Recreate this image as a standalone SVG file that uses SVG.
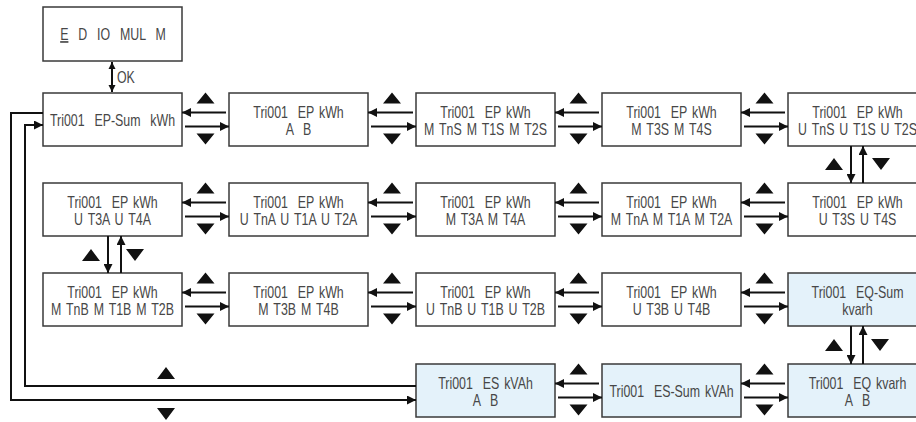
<svg xmlns="http://www.w3.org/2000/svg" width="916" height="422" viewBox="0 0 916 422">
<style>
.box{fill:#ffffff;stroke:#3a3a3a;stroke-width:1.5}
.blue{fill:#e4f2fa}
.t{font-family:"Liberation Sans",Arial,sans-serif;font-size:16.5px;fill:#474747;text-anchor:middle;white-space:pre;word-spacing:2px}
.ts{font-family:"Liberation Sans",Arial,sans-serif;font-size:16.5px;fill:#474747;white-space:pre}
.c{fill:none;stroke:#111;stroke-width:2}
.tri{fill:#111}
</style>
<defs>
<marker id="ah" viewBox="0 0 10 10" refX="10" refY="5" markerWidth="9" markerHeight="9" markerUnits="userSpaceOnUse" orient="auto"><path d="M0,0 L10,5 L0,10 z" fill="#111"/></marker>
<marker id="ahs" viewBox="0 0 10 10" refX="10" refY="5" markerWidth="7" markerHeight="8" markerUnits="userSpaceOnUse" orient="auto-start-reverse"><path d="M0,0 L10,5 L0,10 z" fill="#111"/></marker>
</defs>

<!-- nodes -->
<g id="n_menu">
<rect class="box" x="43" y="7" width="139" height="54"/>
<text class="t" transform="translate(113,40) scale(0.75,1)"><tspan text-decoration="underline">E</tspan>  D  IO  MUL  M</text>
</g>

<g id="n_r1c1"><rect class="box" x="43" y="93" width="139" height="53"/>
<text class="t" transform="translate(112.5,126) scale(0.75,1)">Tri001  EP-Sum  kWh</text></g>
<g id="n_r1c2"><rect class="box" x="229" y="93" width="139" height="53"/>
<text class="t" transform="translate(298.5,117.5) scale(0.75,1)">Tri001  EP kWh</text>
<text class="t" transform="translate(298.5,135) scale(0.75,1)">A  B</text></g>
<g id="n_r1c3"><rect class="box" x="416" y="93" width="139" height="53"/>
<text class="t" transform="translate(485.5,117.5) scale(0.75,1)">Tri001  EP kWh</text>
<text class="t" transform="translate(485.5,135) scale(0.75,1)">M TnS M T1S M T2S</text></g>
<g id="n_r1c4"><rect class="box" x="602" y="93" width="139" height="53"/>
<text class="t" transform="translate(671.5,117.5) scale(0.75,1)">Tri001  EP kWh</text>
<text class="t" transform="translate(671.5,135) scale(0.75,1)">M T3S M T4S</text></g>
<g id="n_r1c5"><rect class="box" x="788" y="93" width="139" height="53"/>
<text class="t" transform="translate(857.5,117.5) scale(0.75,1)">Tri001  EP kWh</text>
<text class="t" transform="translate(857.5,135) scale(0.75,1)">U TnS U T1S U T2S</text></g>

<g id="n_r2c1"><rect class="box" x="43" y="183" width="139" height="53"/>
<text class="t" transform="translate(112.5,207.5) scale(0.75,1)">Tri001  EP kWh</text>
<text class="t" transform="translate(112.5,225) scale(0.75,1)">U T3A U T4A</text></g>
<g id="n_r2c2"><rect class="box" x="229" y="183" width="139" height="53"/>
<text class="t" transform="translate(298.5,207.5) scale(0.75,1)">Tri001  EP kWh</text>
<text class="t" transform="translate(298.5,225) scale(0.75,1)">U TnA U T1A U T2A</text></g>
<g id="n_r2c3"><rect class="box" x="416" y="183" width="139" height="53"/>
<text class="t" transform="translate(485.5,207.5) scale(0.75,1)">Tri001  EP kWh</text>
<text class="t" transform="translate(485.5,225) scale(0.75,1)">M T3A M T4A</text></g>
<g id="n_r2c4"><rect class="box" x="602" y="183" width="139" height="53"/>
<text class="t" transform="translate(671.5,207.5) scale(0.75,1)">Tri001  EP kWh</text>
<text class="t" transform="translate(671.5,225) scale(0.75,1)">M TnA M T1A M T2A</text></g>
<g id="n_r2c5"><rect class="box" x="788" y="183" width="139" height="53"/>
<text class="t" transform="translate(857.5,207.5) scale(0.75,1)">Tri001  EP kWh</text>
<text class="t" transform="translate(857.5,225) scale(0.75,1)">U T3S U T4S</text></g>

<g id="n_r3c1"><rect class="box" x="43" y="273" width="139" height="53"/>
<text class="t" transform="translate(112.5,297.5) scale(0.75,1)">Tri001  EP kWh</text>
<text class="t" transform="translate(112.5,315) scale(0.75,1)">M TnB M T1B M T2B</text></g>
<g id="n_r3c2"><rect class="box" x="229" y="273" width="139" height="53"/>
<text class="t" transform="translate(298.5,297.5) scale(0.75,1)">Tri001  EP kWh</text>
<text class="t" transform="translate(298.5,315) scale(0.75,1)">M T3B M T4B</text></g>
<g id="n_r3c3"><rect class="box" x="416" y="273" width="139" height="53"/>
<text class="t" transform="translate(485.5,297.5) scale(0.75,1)">Tri001  EP kWh</text>
<text class="t" transform="translate(485.5,315) scale(0.75,1)">U TnB U T1B U T2B</text></g>
<g id="n_r3c4"><rect class="box" x="602" y="273" width="139" height="53"/>
<text class="t" transform="translate(671.5,297.5) scale(0.75,1)">Tri001  EP kWh</text>
<text class="t" transform="translate(671.5,315) scale(0.75,1)">U T3B U T4B</text></g>
<g id="n_r3c5"><rect class="box blue" x="788" y="273" width="139" height="53"/>
<text class="t" transform="translate(857.5,297.5) scale(0.75,1)">Tri001  EQ-Sum</text>
<text class="t" transform="translate(857.5,315) scale(0.75,1)">kvarh</text></g>

<g id="n_r4c3"><rect class="box blue" x="416" y="364" width="139" height="53"/>
<text class="t" transform="translate(485.5,388.5) scale(0.75,1)">Tri001  ES kVAh</text>
<text class="t" transform="translate(485.5,406) scale(0.75,1)">A  B</text></g>
<g id="n_r4c4"><rect class="box blue" x="602" y="364" width="139" height="53"/>
<text class="t" transform="translate(671.5,397) scale(0.75,1)">Tri001  ES-Sum kVAh</text></g>
<g id="n_r4c5"><rect class="box blue" x="788" y="364" width="139" height="53"/>
<text class="t" transform="translate(857.5,388.5) scale(0.75,1)">Tri001  EQ kvarh</text>
<text class="t" transform="translate(857.5,406) scale(0.75,1)">A  B</text></g>

<!-- connectors -->
<g id="connectors">
<line class="c" x1="112" y1="62" x2="112" y2="92" marker-start="url(#ahs)" marker-end="url(#ahs)"/>
<text class="ts" transform="translate(117,83) scale(0.75,1)">OK</text>

<!-- row 1 -->
<line class="c" x1="226" y1="112.5" x2="182" y2="112.5" marker-end="url(#ah)"/>
<line class="c" x1="185" y1="126.5" x2="229" y2="126.5" marker-end="url(#ah)"/>
<line class="c" x1="413" y1="112.5" x2="368" y2="112.5" marker-end="url(#ah)"/>
<line class="c" x1="371" y1="126.5" x2="416" y2="126.5" marker-end="url(#ah)"/>
<line class="c" x1="599" y1="112.5" x2="555" y2="112.5" marker-end="url(#ah)"/>
<line class="c" x1="558" y1="126.5" x2="602" y2="126.5" marker-end="url(#ah)"/>
<line class="c" x1="785" y1="112.5" x2="741" y2="112.5" marker-end="url(#ah)"/>
<line class="c" x1="744" y1="126.5" x2="788" y2="126.5" marker-end="url(#ah)"/>
<path class="tri" d="M196.5,103.5 L214.5,103.5 L205.5,92.5 Z M196.5,133.5 L214.5,133.5 L205.5,144.5 Z"/>
<path class="tri" d="M383,103.5 L401,103.5 L392,92.5 Z M383,133.5 L401,133.5 L392,144.5 Z"/>
<path class="tri" d="M569.5,103.5 L587.5,103.5 L578.5,92.5 Z M569.5,133.5 L587.5,133.5 L578.5,144.5 Z"/>
<path class="tri" d="M755.5,103.5 L773.5,103.5 L764.5,92.5 Z M755.5,133.5 L773.5,133.5 L764.5,144.5 Z"/>

<!-- row 2 -->
<line class="c" x1="226" y1="202.5" x2="182" y2="202.5" marker-end="url(#ah)"/>
<line class="c" x1="185" y1="216.5" x2="229" y2="216.5" marker-end="url(#ah)"/>
<line class="c" x1="413" y1="202.5" x2="368" y2="202.5" marker-end="url(#ah)"/>
<line class="c" x1="371" y1="216.5" x2="416" y2="216.5" marker-end="url(#ah)"/>
<line class="c" x1="599" y1="202.5" x2="555" y2="202.5" marker-end="url(#ah)"/>
<line class="c" x1="558" y1="216.5" x2="602" y2="216.5" marker-end="url(#ah)"/>
<line class="c" x1="785" y1="202.5" x2="741" y2="202.5" marker-end="url(#ah)"/>
<line class="c" x1="744" y1="216.5" x2="788" y2="216.5" marker-end="url(#ah)"/>
<path class="tri" d="M196.5,193.5 L214.5,193.5 L205.5,182.5 Z M196.5,223.5 L214.5,223.5 L205.5,234.5 Z"/>
<path class="tri" d="M383,193.5 L401,193.5 L392,182.5 Z M383,223.5 L401,223.5 L392,234.5 Z"/>
<path class="tri" d="M569.5,193.5 L587.5,193.5 L578.5,182.5 Z M569.5,223.5 L587.5,223.5 L578.5,234.5 Z"/>
<path class="tri" d="M755.5,193.5 L773.5,193.5 L764.5,182.5 Z M755.5,223.5 L773.5,223.5 L764.5,234.5 Z"/>

<!-- row 3 -->
<line class="c" x1="226" y1="292.5" x2="182" y2="292.5" marker-end="url(#ah)"/>
<line class="c" x1="185" y1="306.5" x2="229" y2="306.5" marker-end="url(#ah)"/>
<line class="c" x1="413" y1="292.5" x2="368" y2="292.5" marker-end="url(#ah)"/>
<line class="c" x1="371" y1="306.5" x2="416" y2="306.5" marker-end="url(#ah)"/>
<line class="c" x1="599" y1="292.5" x2="555" y2="292.5" marker-end="url(#ah)"/>
<line class="c" x1="558" y1="306.5" x2="602" y2="306.5" marker-end="url(#ah)"/>
<line class="c" x1="785" y1="292.5" x2="741" y2="292.5" marker-end="url(#ah)"/>
<line class="c" x1="744" y1="306.5" x2="788" y2="306.5" marker-end="url(#ah)"/>
<path class="tri" d="M196.5,283.5 L214.5,283.5 L205.5,272.5 Z M196.5,313.5 L214.5,313.5 L205.5,324.5 Z"/>
<path class="tri" d="M383,283.5 L401,283.5 L392,272.5 Z M383,313.5 L401,313.5 L392,324.5 Z"/>
<path class="tri" d="M569.5,283.5 L587.5,283.5 L578.5,272.5 Z M569.5,313.5 L587.5,313.5 L578.5,324.5 Z"/>
<path class="tri" d="M755.5,283.5 L773.5,283.5 L764.5,272.5 Z M755.5,313.5 L773.5,313.5 L764.5,324.5 Z"/>

<!-- row 4 -->
<line class="c" x1="599" y1="383.5" x2="555" y2="383.5" marker-end="url(#ah)"/>
<line class="c" x1="558" y1="397.5" x2="602" y2="397.5" marker-end="url(#ah)"/>
<line class="c" x1="785" y1="383.5" x2="741" y2="383.5" marker-end="url(#ah)"/>
<line class="c" x1="744" y1="397.5" x2="788" y2="397.5" marker-end="url(#ah)"/>
<path class="tri" d="M569.5,374.5 L587.5,374.5 L578.5,363.5 Z M569.5,404.5 L587.5,404.5 L578.5,415.5 Z"/>
<path class="tri" d="M755.5,374.5 L773.5,374.5 L764.5,363.5 Z M755.5,404.5 L773.5,404.5 L764.5,415.5 Z"/>

<!-- verticals -->
<line class="c" x1="851" y1="146" x2="851" y2="183" marker-end="url(#ah)"/>
<line class="c" x1="863" y1="183" x2="863" y2="146" marker-end="url(#ah)"/>
<path class="tri" d="M825,170 L843,170 L834,158 Z M872,158 L890,158 L881,170 Z"/>

<line class="c" x1="108" y1="236" x2="108" y2="273" marker-end="url(#ah)"/>
<line class="c" x1="121" y1="273" x2="121" y2="236" marker-end="url(#ah)"/>
<path class="tri" d="M82,261 L100,261 L91,249 Z M126,249 L144,249 L135,261 Z"/>

<line class="c" x1="851" y1="326" x2="851" y2="364" marker-end="url(#ah)"/>
<line class="c" x1="863" y1="364" x2="863" y2="326" marker-end="url(#ah)"/>
<path class="tri" d="M825,351 L843,351 L834,339 Z M871,339 L889,339 L880,351 Z"/>

<!-- feedback loop -->
<polyline class="c" points="43,113 11,113 11,400 416,400" marker-end="url(#ah)"/>
<polyline class="c" points="416,386 25,386 25,125 43,125" marker-end="url(#ah)"/>
<path class="tri" d="M157,379 L175,379 L166,367 Z M157,408 L175,408 L166,420 Z"/>
</g>
</svg>
